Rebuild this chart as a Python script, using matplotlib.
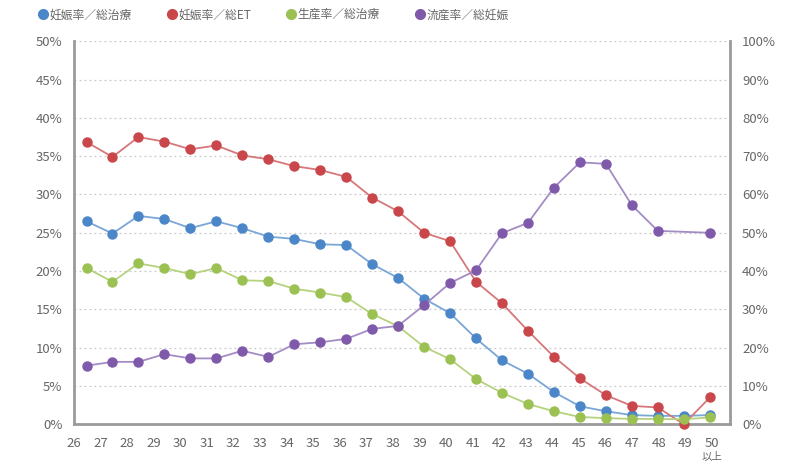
import numpy as np
import matplotlib
matplotlib.use("Agg")
import matplotlib.pyplot as plt
from matplotlib.lines import Line2D

plt.rcParams['font.family'] = ['Noto Sans CJK JP', 'DejaVu Sans']

ages = ['26', '27', '28', '29', '30', '31', '32', '33', '34', '35', '36', '37', '38',
        '39', '40', '41', '42', '43', '44', '45', '46', '47', '48', '49', '50']
age_suffix = '以上'

names = ['妊娠率／総治療', '妊娠率／総ET', '生産率／総治療', '流産率／総妊娠']

preg_total = [26.5, 24.9, 27.2, 26.8, 25.6, 26.5, 25.6, 24.5, 24.2, 23.5, 23.4, 20.9, 19.1,
              16.4, 14.5, 11.2, 8.35, 6.6, 4.2, 2.35, 1.7, 1.2, 1.1, 1.1, 1.2]
preg_et = [36.85, 34.9, 37.5, 36.9, 35.9, 36.4, 35.1, 34.6, 33.7, 33.2, 32.3, 29.6, 27.8,
           25.0, 23.9, 18.6, 15.8, 12.2, 8.8, 6.0, 3.8, 2.4, 2.2, 0.0, 3.5]
birth_total = [20.4, 18.6, 21.0, 20.4, 19.6, 20.4, 18.8, 18.7, 17.7, 17.2, 16.6, 14.4, 12.8,
               10.1, 8.5, 5.9, 4.1, 2.65, 1.7, 0.95, 0.8, 0.7, 0.7, 0.65, 0.9]
miscarriage = [15.3, 16.3, 16.3, 18.3, 17.2, 17.2, 19.2, 17.6, 20.9, 21.4, 22.3, 24.9, 25.7,
               31.1, 36.9, 40.2, 49.9, 52.6, 61.8, 68.4, 68.0, 57.2, 50.5, None, 50.0]

colors = ['#4a86c8', '#c9474a', '#9cc153', '#7f5aaa']
line_colors = ['#7aa6d8', '#d6777a', '#b5d27f', '#a38cc4']
axis_gray = '#9a9a9a'
text_gray = '#666666'

fig = plt.figure(figsize=(8, 4.73), dpi=100)
ax = fig.add_axes([0.0919, 0.103, 0.8200, 0.8097])
ax2 = ax.twinx()

x = np.arange(len(ages))

for vals, c, lc in zip([preg_total, preg_et, birth_total], colors[:3], line_colors[:3]):
    ax.plot(x, vals, color=lc, lw=1.3, marker='o', ms=6.5, mfc=c, mec=c, zorder=3,
            clip_on=False)

pm = np.array([np.nan if v is None else v for v in miscarriage], dtype=float)
ok = ~np.isnan(pm)
ax2.plot(x[ok], pm[ok], color=line_colors[3], lw=1.3, marker='o', ms=6.5,
         mfc=colors[3], mec=colors[3], zorder=3, clip_on=False)

ax.set_xlim(-0.5, 24.76)
ax.set_ylim(0, 50)
ax2.set_ylim(0, 100)

ax.set_yticks(np.arange(0, 51, 5))
ax.set_yticklabels([f'{v}%' for v in range(0, 51, 5)])
ax2.set_yticks(np.arange(0, 101, 10))
ax2.set_yticklabels([f'{v}%' for v in range(0, 101, 10)])

for a in (ax, ax2):
    a.tick_params(axis='both', length=0, colors=text_gray, labelsize=9.5)
    for s in a.spines.values():
        s.set_visible(False)

ax.tick_params(axis='y', pad=8)
ax2.tick_params(axis='y', pad=9)

ax.spines['left'].set_visible(True)
ax.spines['bottom'].set_visible(True)
ax2.spines['right'].set_visible(True)
for s in (ax.spines['left'], ax.spines['bottom'], ax2.spines['right']):
    s.set_color(axis_gray)
    s.set_linewidth(2)

ax.yaxis.grid(True, color='#c8c8c8', linestyle=(0, (1.5, 2.5)), linewidth=0.9)
ax.set_axisbelow(True)

tick_pos = np.linspace(-0.48, 24.08, len(ages))
ax.set_xticks(tick_pos)
ax.set_xticklabels(ages)
ax.tick_params(axis='x', pad=9.5)
ax.text(tick_pos[-1], -0.072, age_suffix, transform=ax.get_xaxis_transform(),
        ha='center', va='top', fontsize=7.5, color=text_gray)

handles = [Line2D([], [], linestyle='none', marker='o', ms=7, mfc=c, mec=c) for c in colors]
fig.legend(handles, names, loc='upper left', bbox_to_anchor=(0.033, 1.005), ncol=4,
           frameon=False, fontsize=8.5, handletextpad=0.05, columnspacing=2.9,
           labelcolor=text_gray, handlelength=1.0)

fig.savefig('out.png', dpi=100, facecolor='white')
